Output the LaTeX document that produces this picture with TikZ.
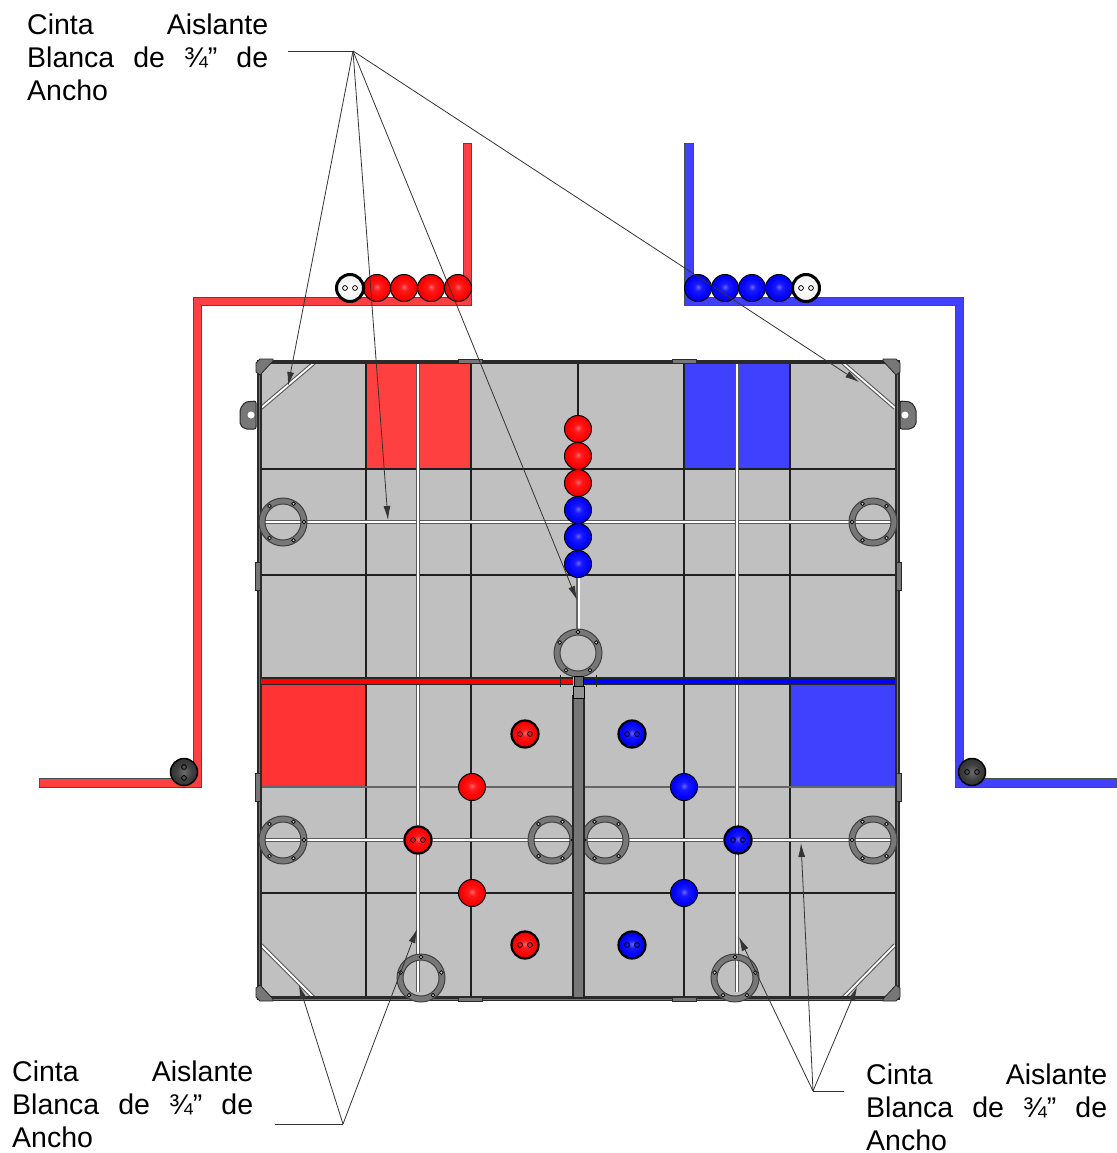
\documentclass[tikz,border=0pt]{standalone}
\usepackage{fontspec}
\setmainfont{Liberation Sans}
\usetikzlibrary{arrows.meta,shadings}
\definecolor{boardgray}{HTML}{C0C0C0}
\definecolor{tapered}{HTML}{FF4040}
\definecolor{tapeblue}{HTML}{4040FF}
\definecolor{ringgray}{HTML}{777777}
\definecolor{framedark}{HTML}{2A2A2A}
\pgfdeclareradialshading{redsphere}{\pgfpoint{0bp}{2bp}}{rgb(0bp)=(1,.4,.4);rgb(7bp)=(1,.1,.1);rgb(20bp)=(1,0,0);rgb(30bp)=(.85,0,0);rgb(38bp)=(.55,0,0);rgb(50bp)=(.2,0,0)}
\pgfdeclareradialshading{bluesphere}{\pgfpoint{0bp}{2bp}}{rgb(0bp)=(.4,.4,1);rgb(7bp)=(.1,.1,1);rgb(20bp)=(0,0,1);rgb(30bp)=(0,0,.85);rgb(38bp)=(0,0,.55);rgb(50bp)=(0,0,.2)}
\pgfdeclareradialshading{whitesphere}{\pgfpoint{0bp}{0bp}}{rgb(0bp)=(1,1,1);rgb(22bp)=(.95,.95,.95);rgb(32bp)=(.7,.7,.7);rgb(50bp)=(.3,.3,.3)}
\pgfdeclareradialshading{blacksphere}{\pgfpoint{0bp}{0bp}}{rgb(0bp)=(.42,.42,.42);rgb(15bp)=(.25,.25,.25);rgb(35bp)=(.15,.15,.15);rgb(50bp)=(.05,.05,.05)}
\tikzset{
  x=1pt,y=-1pt,
  tape/.style={draw=black!70,line width=1pt},
  gridline/.style={draw=black!88,line width=1.7pt},
  softline/.style={draw=black!60,line width=1.7pt},
  whitebar/.style={draw=black!65,line width=4pt},
  whitecore/.style={draw=white,line width=1.8pt},
  leader/.style={draw=black!80,line width=0.8pt},
  leadarrow/.style={leader,-{Latex[length=14pt,width=7pt]}},
  note/.style={inner sep=0pt,anchor=north west,text width=241pt,font=\fontsize{28.5}{33}\selectfont,align=left},
  ballbase/.style={circle,minimum size=27pt,inner sep=0pt,draw=black,line width=1pt},
  redball/.style={ballbase,shading=redsphere},
  blueball/.style={ballbase,shading=bluesphere},
  hole/.style={draw=black,line width=0.8pt,fill=none},
}
\newcommand{\notetext}{\makebox[241pt][s]{Cinta\hfill Aislante}\\\makebox[241pt][s]{Blanca\hfill de\hfill ¾”\hfill de}\\Ancho}
\newcommand{\gearring}[4]{% name, x, y, hole angles
  \fill[ringgray,even odd rule] (#2,#3) circle[radius=24] (#2,#3) circle[radius=18];
  \draw[black!75,line width=1pt] (#2,#3) circle[radius=24] (#2,#3) circle[radius=18];
  \coordinate (#1) at (#2,#3);
  \foreach \a in {#4}
    \draw[black,line width=0.7pt,fill=boardgray] (#2,#3) ++(\a:21) circle[radius=1.9];
}
\newcommand{\holes}[2]{\draw[hole] (#1-5,#2) circle[radius=2.4] (#1+5,#2) circle[radius=2.4];}
\begin{document}
\begin{tikzpicture}
\useasboundingbox (0,0) rectangle (1116,1153);

% tapes
\filldraw[tape,fill=tapered] (463,143)--(471,143)--(471,305)--(201,305)--(201,787)--(39,787)--(39,778)--(193,778)--(193,297)--(463,297)--cycle;
\filldraw[tape,fill=tapeblue] (684,143)--(693,143)--(693,297)--(963,297)--(963,778)--(1116,778)--(1116,787)--(955,787)--(955,305)--(684,305)--cycle;

% board
\fill[boardgray] (259,362) rectangle (897,998);
\fill[tapered] (366,362) rectangle (417,468);
\fill[tapered] (420,362) rectangle (471,468);
\fill[tapeblue] (684,362) rectangle (736,468);
\fill[tapeblue] (739,362) rectangle (790,468);
\fill[red!80!white] (261,681) rectangle (366,787);
\fill[tapeblue] (791,681) rectangle (895,787);

% grid lines
\foreach \x in {366,471,684,790} \draw[gridline] (\x,362)--(\x,998);
\draw[gridline,line width=2.2pt] (259,469)--(897,469);
\draw[gridline,line width=1.4pt] (259,575)--(897,575);
\draw[softline] (259,787)--(573,787) (584,787)--(897,787);
\draw[gridline,line width=1.4pt] (259,893)--(897,893);
\draw[gridline] (578,362)--(578,420);
\draw[softline,line width=4pt] (578,570)--(578,632);
\draw[draw=white,line width=1.2pt] (579,570)--(579,632);

% white tape
\foreach \a/\b/\c/\d in {263/522/895/522, 263/840/895/840, 418/362/418/992, 737/362/737/992,
   261/408/314/363, 895/408/843/363, 261/945/314/998, 895/945/843/998}{
  \draw[whitebar] (\a,\b)--(\c,\d);
  \draw[whitecore] (\a,\b)--(\c,\d);
}

% frame
\draw[framedark,line width=5pt] (259,360)--(259,1000);
\draw[framedark,line width=5pt] (897,360)--(897,1000);
\draw[framedark,line width=4pt] (259,361.5)--(897,361.5);
\draw[framedark,line width=5pt] (259,998.5)--(897,998.5);
\draw[ringgray,line width=1pt] (259,362)--(259,998) (897,362)--(897,998);
\draw[ringgray,line width=1pt] (259,999)--(897,999);
\foreach \x/\y/\sx/\sy in {259/362/1/1, 897/362/-1/1, 259/998/1/-1, 897/998/-1/-1}
  \fill[ringgray,draw=black!85,line width=0.8pt] (\x+\sx,\y-3*\sy)--(\x+14*\sx,\y-3*\sy)--(\x+14*\sx,\y-\sy)--(\x+\sx,\y+13*\sy)--(\x-3*\sx,\y+10*\sy)--(\x-3*\sx,\y+\sy)--cycle;

% side brackets
\filldraw[ringgray,draw=black!85,line width=1pt,rounded corners=2pt] (256,401) -- (245,402)--(240,409)--(240,425)--(245,429)--(256,429)--cycle;
\filldraw[ringgray,draw=black!85,line width=1pt,rounded corners=2pt] (900,401) -- (911,402)--(916,409)--(916,425)--(911,429)--(900,429)--cycle;
\fill[white] (251,415) circle[radius=3.5] (905,415) circle[radius=3.5];
\foreach \y in {576,787} {
  \draw[framedark,fill=ringgray,line width=0.8pt] (255,\y-14) rectangle (260,\y+14);
  \draw[framedark,fill=ringgray,line width=0.8pt] (896,\y-14) rectangle (901,\y+14);
}
\foreach \x in {470,684} {
  \draw[framedark,fill=ringgray,line width=0.5pt] (\x-12,359) rectangle (\x+12,363);
  \draw[framedark,fill=ringgray,line width=0.5pt] (\x-12,997) rectangle (\x+12,1001);
}

% rings
\gearring{r1}{578}{653}{270,330,210,55,125}
\gearring{r2}{283}{522}{300,0,60,130,230}
\gearring{r3}{873}{522}{240,180,120,50,310}
\gearring{r4}{283}{840}{300,0,60,130,230}
\gearring{r5}{873}{840}{240,180,120,50,310}
\gearring{r6}{552}{840}{300,0,60,130,230}
\gearring{r7}{605}{840}{240,180,120,50,310}
\gearring{r8}{421}{978}{270,345,195,55,125}
\gearring{r9}{735}{978}{270,345,195,55,125}

% centre bars
\draw[black!85,line width=8pt] (261,681)--(573,681);
\draw[red,line width=5pt] (261,681)--(573,681);
\draw[black!85,line width=8pt] (583,681)--(895,681);
\draw[blue,line width=5pt] (583,681)--(895,681);
\filldraw[ringgray,draw=black!85,line width=1.4pt] (573,696) rectangle (584,998);
\draw[black,line width=0.8pt,fill=black!60] (574,676) rectangle (583,686);
\draw[black,line width=0.8pt,fill=ringgray!60!boardgray] (573,686) rectangle (584,698);
\draw[black!85,line width=1pt] (560,675)--(560,687) (596,675)--(596,687);

% balls
\foreach \n/\x/\y in {a1/377/288,a2/404/288,a3/431/288,a4/458/288,c1/578/429,c2/578/456,c3/578/483,g1/472/787,g2/472/893}
  \node[redball] (\n) at (\x,\y) {};
\foreach \n/\x/\y in {b1/698/288,b2/725/288,b3/752/288,b4/779/288,c4/578/510,c5/578/537,c6/578/564,g3/684/787,g4/684/893}
  \node[blueball] (\n) at (\x,\y) {};
\foreach \n/\x/\y in {h1/525/734,h2/525/945,h3/418/840}{
  \node[redball,line width=2.2pt] (\n) at (\x,\y) {}; \holes{\x}{\y}
}
\foreach \n/\x/\y in {h4/632/734,h5/632/945,h6/738/840}{
  \node[blueball,line width=2.2pt] (\n) at (\x,\y) {}; \holes{\x}{\y}
}
\node[ballbase,shading=whitesphere,line width=3pt] (w1) at (350,288) {}; \holes{350}{288}
\node[ballbase,shading=whitesphere,line width=3pt] (w2) at (806,288) {}; \holes{806}{288}
\node[ballbase,shading=blacksphere,line width=1.5pt] (k1) at (184,772) {};
\draw[hole] (184,767) circle[radius=2.4] (184,778) circle[radius=2.4];
\node[ballbase,shading=blacksphere,line width=1.5pt] (k2) at (972,772) {};
\draw[hole] (967,772) circle[radius=2.4] (977,772) circle[radius=2.4];

% labels
\node[note] (n1) at (27,14) {\notetext};
\node[note] (n2) at (12,1061) {\notetext};
\node[note] (n3) at (866,1064) {\notetext};

% leaders
\coordinate (s1) at (288,51);
\coordinate (j1) at (353,51);
\coordinate (s2) at (275,1124);
\coordinate (j2) at (343,1124);
\coordinate (s3) at (844,1091);
\coordinate (j3) at (813,1091);
\coordinate (t1) at (288,386);
\coordinate (t2) at (388,520);
\coordinate (t3) at (577,600);
\coordinate (t4) at (859,382);
\coordinate (t5) at (299,985);
\coordinate (t6) at (417,929);
\coordinate (t7) at (739,937);
\coordinate (t8) at (857,987);
\coordinate (t9) at (801,843);
\draw[leader] (s1)--(j1);
\draw[leader] (s2)--(j2);
\draw[leader] (s3)--(j3);
\foreach \t in {t1,t2,t3,t4} \draw[leadarrow] (j1)--(\t);
\foreach \t in {t5,t6} \draw[leadarrow] (j2)--(\t);
\foreach \t in {t7,t8,t9} \draw[leadarrow] (j3)--(\t);
\end{tikzpicture}
\end{document}
